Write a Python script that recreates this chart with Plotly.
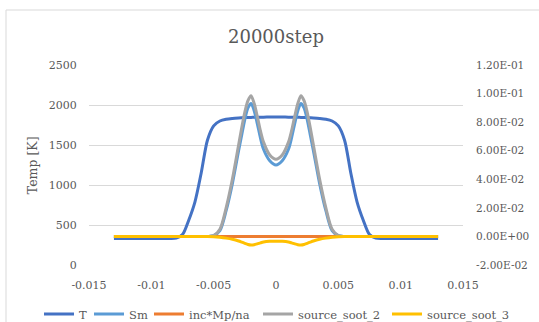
import plotly.graph_objects as go

# ---- data ----
x = [-0.013, -0.012, -0.011, -0.010, -0.009, -0.0085, -0.008, -0.0075, -0.007, -0.0065,
     -0.006, -0.0055, -0.005, -0.0045, -0.004, -0.0035, -0.003, -0.00275, -0.0025, -0.00225,
     -0.002, -0.00175, -0.0015, -0.00125, -0.001, -0.0005, 0.0,
     0.0005, 0.001, 0.00125, 0.0015, 0.00175, 0.002, 0.00225, 0.0025, 0.00275, 0.003,
     0.0035, 0.004, 0.0045, 0.005, 0.0055, 0.006, 0.0065, 0.007, 0.0075, 0.008,
     0.0085, 0.009, 0.010, 0.011, 0.012, 0.013]

T = [330, 330, 330, 330, 330, 331, 336, 380, 560, 790,
     1150, 1560, 1740, 1800, 1822, 1832, 1838, 1840, 1842, 1844,
     1845, 1846, 1847, 1847, 1848, 1849, 1850,
     1849, 1848, 1847, 1847, 1846, 1845, 1844, 1842, 1840, 1838,
     1832, 1822, 1800, 1740, 1560, 1150, 790, 560, 380, 336,
     331, 330, 330, 330, 330, 330]

Sm = [0, 0, 0, 0, 0, 0, 0, 0, 0, 0,
      0, 0, 0.0005, 0.004, 0.018, 0.037, 0.060, 0.071, 0.082, 0.090,
      0.093, 0.088, 0.079, 0.069, 0.061, 0.053, 0.050,
      0.053, 0.061, 0.069, 0.079, 0.088, 0.093, 0.090, 0.082, 0.071, 0.060,
      0.037, 0.018, 0.004, 0.0005, 0, 0, 0, 0, 0, 0,
      0, 0, 0, 0, 0, 0]

inc = [0] * 53

soot2 = [0, 0, 0, 0, 0, 0, 0, 0, 0, 0,
         0, 0, 0.0005, 0.005, 0.020, 0.040, 0.064, 0.076, 0.087, 0.095,
         0.0985, 0.093, 0.084, 0.074, 0.066, 0.057, 0.054,
         0.057, 0.066, 0.074, 0.084, 0.093, 0.0985, 0.095, 0.087, 0.076, 0.064,
         0.040, 0.020, 0.005, 0.0005, 0, 0, 0, 0, 0, 0,
         0, 0, 0, 0, 0, 0]

soot3 = [0, 0, 0, 0, 0, 0, 0, 0, 0, 0,
         0, 0, -0.0002, -0.0006, -0.0012, -0.002, -0.0032, -0.004, -0.0048, -0.0056,
         -0.006, -0.0058, -0.0052, -0.0045, -0.0039, -0.0034, -0.0033,
         -0.0034, -0.0039, -0.0045, -0.0052, -0.0058, -0.006, -0.0056, -0.0048, -0.004, -0.0032,
         -0.002, -0.0012, -0.0006, -0.0002, 0, 0, 0, 0, 0, 0,
         0, 0, 0, 0, 0, 0]

x_ticks = [-0.015, -0.01, -0.005, 0, 0.005, 0.01, 0.015]
x_tick_text = ["-0.015", "-0.01", "-0.005", "0", "0.005", "0.01", "0.015"]
y_ticks = [0, 500, 1000, 1500, 2000, 2500]
y2_ticks = [-0.02, 0.0, 0.02, 0.04, 0.06, 0.08, 0.10, 0.12]
y2_tick_text = ["-2.00E-02", "0.00E+00", "2.00E-02", "4.00E-02", "6.00E-02",
                "8.00E-02", "1.00E-01", "1.20E-01"]

FONT = "'DejaVu Serif', 'Liberation Serif', serif"
GREY = "#595959"

fig = go.Figure()
common = dict(mode="lines", line_shape="spline")
fig.add_trace(go.Scatter(x=x, y=T, name="T", legendwidth=5, legend="legend",
                         line=dict(color="#4472C4", width=3, smoothing=0.8), yaxis="y", **common))
fig.add_trace(go.Scatter(x=x, y=Sm, name="Sm", legendwidth=15, legend="legend",
                         line=dict(color="#5B9BD5", width=3, smoothing=0.8), yaxis="y2", **common))
fig.add_trace(go.Scatter(x=x, y=inc, name="inc*Mp/na", legendwidth=64, legend="legend",
                         line=dict(color="#ED7D31", width=3), yaxis="y2", **common))
fig.add_trace(go.Scatter(x=x, y=soot2, name="source_soot_2", legendwidth=95, legend="legend",
                         line=dict(color="#A5A5A5", width=3, smoothing=0.8), yaxis="y2", **common))
fig.add_trace(go.Scatter(x=x, y=soot3, name="source_soot_3", legendwidth=95, legend="legend2",
                         line=dict(color="#FFC000", width=3, smoothing=0.8), yaxis="y2", **common))

leg_common = dict(orientation="h", y=-0.245, yanchor="middle",
                  font=dict(family=FONT, size=11.5, color=GREY), bgcolor="rgba(0,0,0,0)",
                  itemwidth=30, tracegroupgap=0)

fig.update_layout(
    width=539, height=322,
    margin=dict(l=89, r=76, t=65, b=57, autoexpand=False),
    paper_bgcolor="white", plot_bgcolor="white",
    font=dict(family=FONT, color=GREY, size=11),
    xaxis=dict(range=[-0.015, 0.015], tickvals=x_ticks, ticktext=x_tick_text,
               showgrid=False, zeroline=False, showline=False, automargin=False,
               ticks="outside", ticklen=10, tickcolor="rgba(0,0,0,0)"),
    yaxis=dict(range=[0, 2500], tickvals=y_ticks, showgrid=True, gridcolor="#D9D9D9",
               gridwidth=1, zeroline=False, showline=False, automargin=False,
               ticks="outside", ticklen=9, tickcolor="rgba(0,0,0,0)"),
    yaxis2=dict(range=[-0.02, 0.12], tickvals=y2_ticks, ticktext=y2_tick_text,
                overlaying="y", side="right", showgrid=False, zeroline=False, showline=False,
                automargin=False, tickfont=dict(size=10.5),
                ticks="outside", ticklen=10, tickcolor="rgba(0,0,0,0)"),
    legend=dict(x=(39 - 89) / 374, xanchor="left", **leg_common),
    legend2=dict(x=(387 - 89) / 374, xanchor="left", **leg_common),
    showlegend=True,
    annotations=[
        dict(text="20000step", x=0.5, y=(265 - 36) / 200, xref="paper", yref="paper",
             showarrow=False, xanchor="center", yanchor="middle",
             font=dict(family=FONT, size=18, color=GREY)),
        dict(text="Temp [K]", x=-0.152, y=0.5, xref="paper", yref="paper",
             textangle=-90, showarrow=False, xanchor="center", yanchor="middle",
             font=dict(family=FONT, size=12.5, color=GREY))],
    shapes=[dict(type="rect", xref="paper", yref="paper",
                 x0=-0.2219, x1=1.25, y0=-0.35, y1=1.275,
                 line=dict(color="#D9D9D9", width=1), fillcolor="rgba(0,0,0,0)", layer="below")],
)

fig.write_html("out.html", config={"displayModeBar": False},
               post_script="document.body.style.margin='0';document.body.style.overflow='hidden';")
